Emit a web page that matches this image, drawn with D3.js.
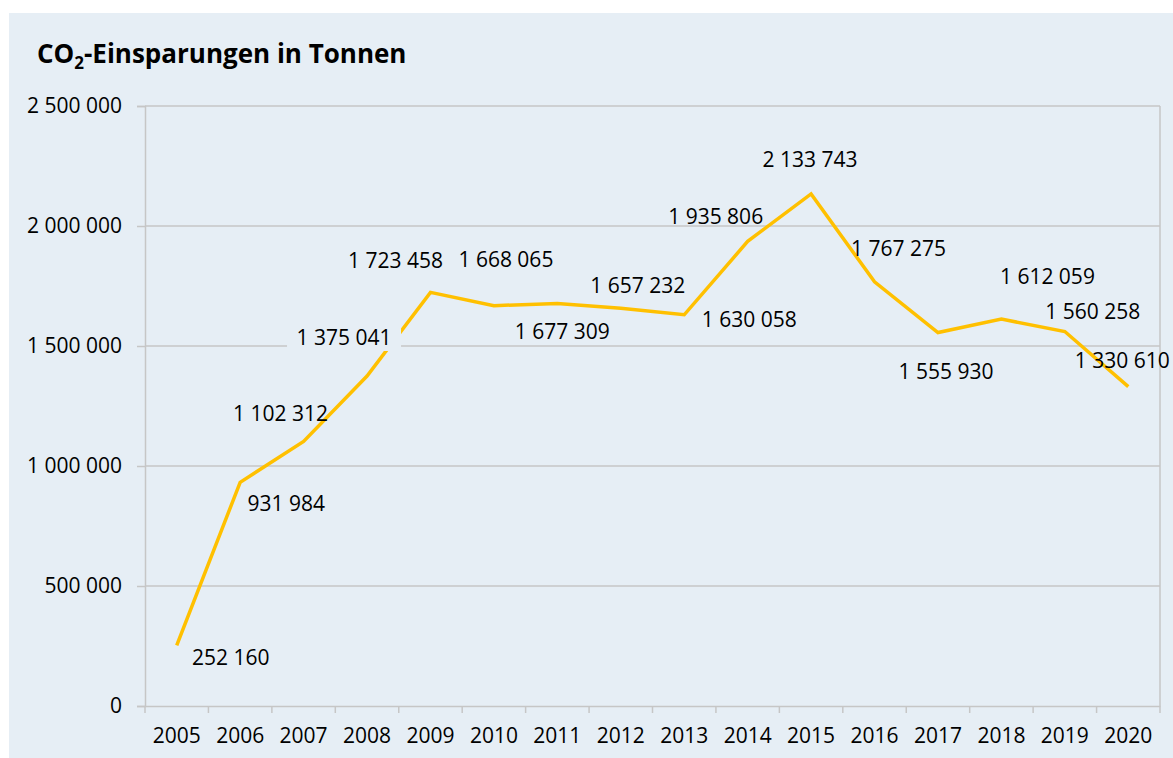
<!DOCTYPE html>
<html>
<head>
<meta charset="utf-8">
<script src="https://cdn.jsdelivr.net/npm/d3@7"></script>
<style>
    body { margin: 0; background: #ffffff; }
    svg text { font-family: "Open Sans", sans-serif; fill: #000; }
</style>
</head>
<body>
<svg id="chart" width="1173" height="758"></svg>
<script>
// Years and the CO2 savings
let years = ["2005", "2006", "2007", "2008", "2009", "2010", "2011", "2012",
             "2013", "2014", "2015", "2016", "2017", "2018", "2019", "2020"];
let savings = [252160, 931984, 1102312, 1375041, 1723458, 1668065, 1677309, 1657232,
               1630058, 1935806, 2133743, 1767275, 1555930, 1612059, 1560258, 1330610];
let yTicks = [0, 500000, 1000000, 1500000, 2000000, 2500000];

// where each data label sits relative to its point (Excel custom positions)
let labelDx = [54, 46, -23, -23, -35, 12, 5, 17, 65, -32, -1, 24, 8, 46, 28, -6];
let labelDy = [12, 21, -28, -38, -32, -46, 28, -23, 5, -25, -34, -33, 39, -42, -20, -26];
let labelBoxed = ["2008"];

let bg = "#e6eef5";
let gridColor = "#c6c6c6";

let svg = d3.select("#chart");

svg.append("rect")
    .attr("x", 9).attr("y", 13)
    .attr("width", 1173 - 9).attr("height", 758 - 13)
    .attr("fill", bg);

// title with subscript 2
let title = svg.append("text")
    .attr("x", 37).attr("y", 63)
    .attr("font-size", "26px")
    .attr("font-weight", "bold");
title.append("tspan").text("CO");
title.append("tspan").attr("font-size", "17px").attr("dy", 6).text("2");
title.append("tspan").attr("dy", -6).text("-Einsparungen in Tonnen");

let plotLeft = 145, plotRight = 1160, plotTop = 106, plotBottom = 706;

let x = d3.scaleBand().domain(years).range([plotLeft, plotRight]).padding(0);
let y = d3.scaleLinear().domain([0, 2500000]).range([plotBottom, plotTop]);

let fmt = d3.formatLocale({ decimal: ",", thousands: " ", grouping: [3], currency: ["", ""] }).format(",d");

// gridlines
svg.append("g")
    .selectAll("line")
    .data(yTicks.filter(d => d > 0))
    .enter().append("line")
    .attr("x1", plotLeft).attr("x2", plotRight)
    .attr("y1", d => y(d)).attr("y2", d => y(d))
    .attr("stroke", gridColor)
    .attr("stroke-width", 1.5);

// right border of plot
svg.append("line")
    .attr("x1", plotRight).attr("x2", plotRight)
    .attr("y1", plotTop).attr("y2", plotBottom)
    .attr("stroke", gridColor)
    .attr("stroke-width", 1.5);

// y axis
let yAxis = svg.append("g")
    .attr("transform", `translate(${plotLeft},0)`)
    .call(d3.axisLeft(y).tickValues(yTicks).tickFormat(fmt).tickSize(8).tickPadding(15));
yAxis.selectAll("line").attr("stroke", gridColor).attr("stroke-width", 1.5);
yAxis.select(".domain").attr("stroke", gridColor).attr("stroke-width", 1.5);
yAxis.selectAll("text").attr("font-size", "21px").attr("font-family", "Open Sans, sans-serif").attr("fill", "#000");

// x axis: labels at band centers, ticks at band edges
let xAxis = svg.append("g")
    .attr("transform", `translate(0,${plotBottom})`)
    .call(d3.axisBottom(x).tickSize(0).tickPadding(22));
xAxis.select(".domain").attr("stroke", gridColor).attr("stroke-width", 1.5);
xAxis.selectAll("text").attr("font-size", "21px").attr("font-family", "Open Sans, sans-serif").attr("fill", "#000");
xAxis.selectAll(".edge")
    .data(years.map(d => x(d)).concat([plotRight]))
    .enter().append("line")
    .attr("class", "edge")
    .attr("x1", d => d).attr("x2", d => d)
    .attr("y1", 0).attr("y2", 7)
    .attr("stroke", gridColor)
    .attr("stroke-width", 1.5);

let cx = (d, i) => x(years[i]) + x.bandwidth() / 2;

let line = d3.line()
    .x((d, i) => cx(d, i))
    .y(d => y(d));

svg.append("path")
    .datum(savings)
    .attr("d", line)
    .attr("fill", "none")
    .attr("stroke", "#ffc000")
    .attr("stroke-width", 3.5)
    .attr("stroke-linejoin", "miter");

// data labels
let labels = svg.append("g");
savings.forEach(function(v, i) {
    let lx = cx(v, i) + labelDx[i];
    let ly = y(v) + labelDy[i];
    if (labelBoxed.indexOf(years[i]) >= 0) {
        labels.append("rect")
            .attr("x", lx - 57).attr("y", ly - 13)
            .attr("width", 114).attr("height", 26)
            .attr("fill", bg);
    }
    labels.append("text")
        .attr("x", lx).attr("y", ly)
        .attr("dy", "0.35em")
        .attr("text-anchor", "middle")
        .attr("font-size", "21px")
        .text(fmt(v));
});
</script>
</body>
</html>
